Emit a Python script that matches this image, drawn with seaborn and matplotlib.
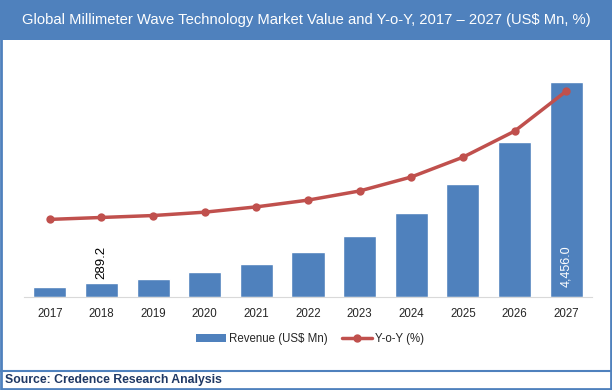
import numpy as np
import pandas as pd
import seaborn as sns
import matplotlib.pyplot as plt
from matplotlib.patches import Rectangle, Patch
from matplotlib.lines import Line2D

# dados
anos = ['2017', '2018', '2019', '2020', '2021', '2022', '2023', '2024', '2025', '2026', '2027']
receita = [207, 289.2, 373, 518, 684, 933, 1264, 1741, 2342, 3212, 4456.0]
yoy = [16.1, 16.5, 16.9, 17.6, 18.7, 20.1, 22.0, 24.9, 29.0, 34.4, 42.7]

azul = '#4F81BD'
vermelho = '#C0504D'


def main():
    sns.set_style('white')
    plt.rcParams['font.family'] = ['Liberation Sans', 'DejaVu Sans']

    df = pd.DataFrame({'ano': anos, 'receita': receita, 'yoy': yoy})

    fig = plt.figure(figsize=(6.12, 3.9), dpi=100)
    ax = fig.add_axes([24 / 612, 93 / 390, 568 / 612, 241 / 390])

    # barras de receita
    sns.barplot(data=df, x='ano', y='receita', color=azul, width=0.64,
                saturation=1, ax=ax)
    ax.set_ylim(0, 5000)
    ax.set_xlim(-0.5, 10.5)
    ax.set_xlabel('')
    ax.set_ylabel('')
    ax.set_yticks([])
    ax.tick_params(axis='x', length=0, labelsize=8.3, pad=8)
    for s in ['top', 'right', 'left']:
        ax.spines[s].set_visible(False)
    ax.spines['bottom'].set_color('#D9D9D9')

    # rotulos das barras
    ax.text(1, receita[1] + 80, '289.2', rotation=90, ha='center', va='bottom',
            fontsize=9.5, color='black')
    ax.text(10, 200, '4,456.0', rotation=90, ha='center', va='bottom',
            fontsize=9, color='white')

    # linha Y-o-Y em eixo secundario
    ax2 = ax.twinx()
    sns.lineplot(x=np.arange(len(anos)), y=yoy, color=vermelho, linewidth=2.5,
                 marker='o', markersize=6, markeredgewidth=0, ax=ax2)
    ax2.set_ylim(0, 50)
    ax2.set_xlim(-0.5, 10.5)
    ax2.set_yticks([])
    for s in ['top', 'right', 'left', 'bottom']:
        ax2.spines[s].set_visible(False)

    # faixa do titulo
    fig.patches.append(Rectangle((0, 350 / 390), 1, 40 / 390, transform=fig.transFigure,
                                 facecolor=azul, edgecolor='none', zorder=0))
    fig.text(0.5, 370 / 390, 'Global Millimeter Wave Technology Market Value and Y-o-Y, 2017 \u2013 2027 (US$ Mn, %)',
             ha='center', va='center', color='white', fontsize=10.6)

    # legenda
    handles = [Patch(facecolor=azul, edgecolor='none'),
               Line2D([0], [0], color=vermelho, linewidth=2.5, marker='o', markersize=5)]
    fig.legend(handles, ['Revenue (US$ Mn)', 'Y-o-Y (%)'], loc='center',
               bbox_to_anchor=(310 / 612, 51 / 390), ncol=2, frameon=False,
               fontsize=8.3, handlelength=2.6, handleheight=0.6, columnspacing=1.2,
               handletextpad=0.3)

    # linha separadora e fonte
    fig.add_artist(Line2D([0, 1], [19 / 390, 19 / 390], color=azul, linewidth=1.5,
                          transform=fig.transFigure))
    fig.text(5 / 612, 9.5 / 390, 'Source: Credence Research Analysis', ha='left', va='center',
             fontsize=8.8, fontweight='bold', color='#1F3864')

    # borda
    fig.patches.append(Rectangle((0.0015, 0.0025), 0.997, 0.995, transform=fig.transFigure,
                                 facecolor='none', edgecolor=azul, linewidth=2, zorder=5))

    fig.savefig('out.png', dpi=100)


if __name__ == '__main__':
    main()
